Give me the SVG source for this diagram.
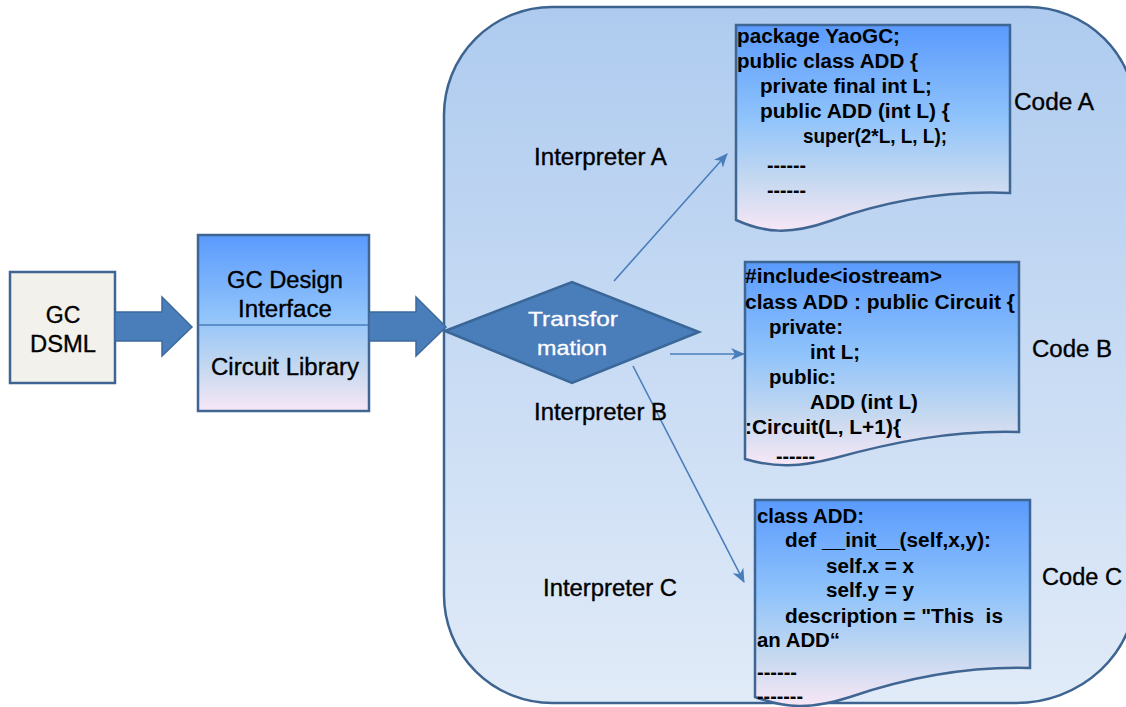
<svg xmlns="http://www.w3.org/2000/svg" width="1126" height="707" viewBox="0 0 1126 707">
  <defs>
    <linearGradient id="panelFill" x1="0" y1="0" x2="0" y2="1">
      <stop offset="0" stop-color="#aecbef"/>
      <stop offset="1" stop-color="#e1ebf8"/>
    </linearGradient>
    <linearGradient id="docFill" x1="0" y1="0" x2="0" y2="1">
      <stop offset="0" stop-color="#5a9afd"/>
      <stop offset="0.45" stop-color="#8fc3fb"/>
      <stop offset="0.75" stop-color="#c4d8f0"/>
      <stop offset="1" stop-color="#f7e7f6"/>
    </linearGradient>
    <marker id="arrow" viewBox="0 0 14 12" refX="13" refY="6" markerWidth="14" markerHeight="12" markerUnits="userSpaceOnUse" orient="auto">
      <path d="M0,0 L14,6 L0,12 L4,6 Z" fill="#4a7ebb"/>
    </marker>
    <style>
      .label { font-family: "Liberation Sans", Arial, sans-serif; font-size: 23px; fill: #000; stroke: #000; stroke-width: 0.35; }
      .inverse { font-family: "Liberation Sans", Arial, sans-serif; font-size: 21px; fill: #ffffff; stroke: #ffffff; stroke-width: 0.3; }
      .code { font-family: "Liberation Sans", Arial, sans-serif; font-size: 20px; font-weight: bold; fill: #000; white-space: pre; }
      .doc { fill: url(#docFill); stroke: #3f6592; stroke-width: 2.5; }
      .block { fill: #4a7ebb; stroke: #3c6a9e; stroke-width: 1.5; }
      .link { fill: none; stroke: #4a7ebb; stroke-width: 1.6; marker-end: url(#arrow); }
    </style>
  </defs>

  <rect width="1126" height="707" fill="#ffffff"/>

  <!-- container for the transformation stage -->
  <g id="panel">
    <path d="M552,7 H1028 A108,108 0 0 1 1136,115 V590 A120,113 0 0 1 1016,703 H552 A108,108 0 0 1 444,595 V115 A108,108 0 0 1 552,7 Z" fill="url(#panelFill)" stroke="#3d6490" stroke-width="2.5"/>
  </g>

  <!-- source model -->
  <g id="gc-dsml">
    <rect x="10" y="272" width="105" height="111" fill="#f2f1eb" stroke="#3f6592" stroke-width="2.5"/>
    <text class="label" x="63" y="323" text-anchor="middle">GC</text>
    <text class="label" x="63" y="352" text-anchor="middle" textLength="66" lengthAdjust="spacingAndGlyphs">DSML</text>
  </g>

  <!-- design interface + library -->
  <g id="gc-design">
    <rect x="198" y="235" width="171" height="176" fill="url(#docFill)" stroke="#3f6592" stroke-width="2.5"/>
    <line x1="199" y1="325" x2="368" y2="325" stroke="#4a7ebb" stroke-width="1.5"/>
    <text class="label" x="285" y="288" text-anchor="middle" textLength="116" lengthAdjust="spacingAndGlyphs">GC Design</text>
    <text class="label" x="285" y="317" text-anchor="middle" textLength="94" lengthAdjust="spacingAndGlyphs">Interface</text>
    <text class="label" x="285" y="375" text-anchor="middle" textLength="148" lengthAdjust="spacingAndGlyphs">Circuit Library</text>
  </g>

  <!-- transformation decision -->
  <g id="transformation">
    <polygon points="445,331 572,282 699,332 572,383" fill="#4a7ebb" stroke="#3a6698" stroke-width="2.5"/>
    <text class="inverse" x="573" y="326" text-anchor="middle" textLength="90" lengthAdjust="spacingAndGlyphs">Transfor</text>
    <text class="inverse" x="572" y="355" text-anchor="middle" textLength="70" lengthAdjust="spacingAndGlyphs">mation</text>
  </g>

  <!-- generated code A (Java) -->
  <g id="code-a">
    <path class="doc" d="M736,25 H1010 V193 C940,190 880,203 830,221 C790,235 765,233 736,220 Z"/>
    <text class="code" x="737" y="43" textLength="163" lengthAdjust="spacingAndGlyphs">package YaoGC;</text>
    <text class="code" x="737" y="68" textLength="181" lengthAdjust="spacingAndGlyphs">public class ADD {</text>
    <text class="code" x="760" y="93" textLength="172" lengthAdjust="spacingAndGlyphs">private final int L;</text>
    <text class="code" x="760" y="118" textLength="190" lengthAdjust="spacingAndGlyphs">public ADD (int L) {</text>
    <text class="code" x="803" y="143" textLength="144" lengthAdjust="spacingAndGlyphs">super(2*L, L, L);</text>
    <text class="code" x="767" y="172" textLength="39" lengthAdjust="spacingAndGlyphs">------</text>
    <text class="code" x="767" y="197" textLength="39" lengthAdjust="spacingAndGlyphs">------</text>
  </g>
  <text class="label" x="1014" y="110" textLength="80" lengthAdjust="spacingAndGlyphs">Code A</text>

  <!-- generated code B (C++) -->
  <g id="code-b">
    <path class="doc" d="M745,262 H1019 V432 C950,430 890,443 835,458 C800,467 775,468 745,459 Z"/>
    <text class="code" x="745" y="283" textLength="197" lengthAdjust="spacingAndGlyphs">#include&lt;iostream&gt;</text>
    <text class="code" x="745" y="309" textLength="270" lengthAdjust="spacingAndGlyphs">class ADD : public Circuit {</text>
    <text class="code" x="769" y="334" textLength="74" lengthAdjust="spacingAndGlyphs">private:</text>
    <text class="code" x="810" y="359" textLength="50" lengthAdjust="spacingAndGlyphs">int L;</text>
    <text class="code" x="769" y="384" textLength="67" lengthAdjust="spacingAndGlyphs">public:</text>
    <text class="code" x="810" y="409" textLength="108" lengthAdjust="spacingAndGlyphs">ADD (int L)</text>
    <text class="code" x="745" y="434" textLength="156" lengthAdjust="spacingAndGlyphs">:Circuit(L, L+1){</text>
    <text class="code" x="776" y="463" textLength="39" lengthAdjust="spacingAndGlyphs">------</text>
  </g>
  <text class="label" x="1032" y="357" textLength="80" lengthAdjust="spacingAndGlyphs">Code B</text>

  <!-- generated code C (Python) -->
  <g id="code-c">
    <path class="doc" d="M755,500 H1030 V668 C960,666 900,680 850,697 C810,710 785,708 755,697 Z"/>
    <text class="code" x="757" y="523" textLength="107" lengthAdjust="spacingAndGlyphs">class ADD:</text>
    <text class="code" x="785" y="547" textLength="206" lengthAdjust="spacingAndGlyphs">def __init__(self,x,y):</text>
    <text class="code" x="826" y="573" textLength="88" lengthAdjust="spacingAndGlyphs">self.x = x</text>
    <text class="code" x="826" y="597" textLength="88" lengthAdjust="spacingAndGlyphs">self.y = y</text>
    <text class="code" x="785" y="623" textLength="218" lengthAdjust="spacingAndGlyphs" xml:space="preserve">description = "This  is</text>
    <text class="code" x="757" y="647" textLength="83" lengthAdjust="spacingAndGlyphs">an ADD“</text>
    <text class="code" x="757" y="679" textLength="40" lengthAdjust="spacingAndGlyphs">------</text>
    <text class="code" x="757" y="703" textLength="46" lengthAdjust="spacingAndGlyphs">-------</text>
  </g>
  <text class="label" x="1042" y="585" textLength="80" lengthAdjust="spacingAndGlyphs">Code C</text>

  <!-- connectors -->
  <g id="connectors">
    <path class="block" d="M115,312 H162 V297 L192,327 L162,356 V341 H115 Z"/>
    <path class="block" d="M369,312 H416 V297 L446,327 L416,356 V341 H369 Z"/>
    <line class="link" x1="614" y1="281" x2="727" y2="154"/>
    <line class="link" x1="670" y1="354" x2="744" y2="354"/>
    <line class="link" x1="633" y1="366" x2="744" y2="582"/>
  </g>

  <!-- interpreter labels -->
  <g id="interpreters">
    <text class="label" x="534" y="165" textLength="133" lengthAdjust="spacingAndGlyphs">Interpreter A</text>
    <text class="label" x="534" y="420" textLength="133" lengthAdjust="spacingAndGlyphs">Interpreter B</text>
    <text class="label" x="543" y="596" textLength="134" lengthAdjust="spacingAndGlyphs">Interpreter C</text>
  </g>
</svg>
